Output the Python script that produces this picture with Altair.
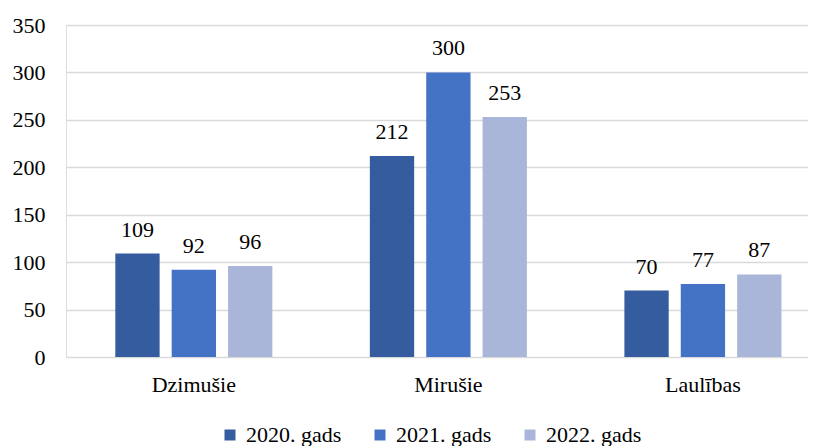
import altair as alt
import pandas as pd

categories = ["Dzimušie", "Mirušie", "Laulības"]
series = ["2020. gads", "2021. gads", "2022. gads"]
v2020 = [109, 212, 70]
v2021 = [92, 300, 77]
v2022 = [96, 253, 87]
colors = ["#355C9E", "#4472C4", "#A9B6DA"]

rows = []
for s, vals in zip(series, [v2020, v2021, v2022]):
    for c, v in zip(categories, vals):
        rows.append({"cat": c, "series": s, "value": v})
df = pd.DataFrame(rows)

FONT = "Liberation Serif"
FS = 22

base = alt.Chart(df).encode(
    x=alt.X("cat:N", sort=categories, title=None,
            scale=alt.Scale(paddingInner=0.383, paddingOuter=0.149, align=0.65),
            axis=alt.Axis(labelAngle=0, labelFontSize=FS, labelFont=FONT, labelColor="#000000",
                          ticks=False, domain=True, domainColor="#D9D9D9", labelPadding=17)),
    xOffset=alt.XOffset("series:N", sort=series, scale=alt.Scale(paddingInner=0.214, paddingOuter=0)),
)

bars = base.mark_bar().encode(
    y=alt.Y("value:Q", title=None, scale=alt.Scale(domain=[0, 350]),
            axis=alt.Axis(values=list(range(0, 351, 50)), labelFontSize=FS, labelFont=FONT,
                          labelColor="#000000", ticks=False, domain=False,
                          gridColor="#D9D9D9", gridWidth=1.5, labelPadding=21)),
    color=alt.Color("series:N", sort=series, scale=alt.Scale(domain=series, range=colors),
                    legend=alt.Legend(title=None, orient="none", direction="horizontal",
                                      legendX=153, legendY=399,
                                      symbolType="square", symbolSize=121, symbolStrokeWidth=0,
                                      labelFontSize=FS, labelFont=FONT, labelColor="#000000",
                                      columnPadding=27, labelOffset=5)),
)

labels = base.mark_text(baseline="alphabetic", dy=-17, fontSize=FS, font=FONT, color="#000000").encode(
    y="value:Q",
    text="value:Q",
)

chart = (bars + labels).properties(
    width=742, height=332, padding={"top": 6, "left": 4, "right": 0, "bottom": 0}
).configure_view(stroke=None).configure(background="#FFFFFF", font=FONT)

chart.save("out.html", embed_options={"renderer": "svg", "actions": False})
